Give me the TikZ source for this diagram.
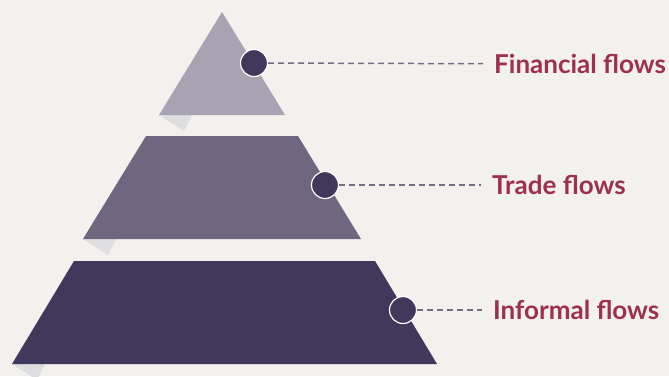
\documentclass[tikz,border=0pt]{standalone}
\usepackage{fontspec}
\setmainfont{Lato}
\usepackage{tikz}

\definecolor{bgcol}{HTML}{F2F1EE}
\definecolor{shadecol}{HTML}{DEDEE0}
\definecolor{tierA}{HTML}{A9A2B2}
\definecolor{tierB}{HTML}{70667F}
\definecolor{tierC}{HTML}{41395C}
\definecolor{dashcol}{HTML}{756C84}
\definecolor{labelcol}{HTML}{9E2F4E}

\tikzset{
  dot/.style={circle, fill=tierC, draw=white, line width=1.2pt, minimum size=27pt, inner sep=0pt},
  flowlabel/.style={anchor=west, text=labelcol, font=\fontsize{26}{30}\selectfont\bfseries, inner xsep=11pt, inner ysep=0pt},
  leader/.style={dashcol, line width=1.5pt, dash pattern=on 6pt off 4pt}
}

\begin{document}
\begin{tikzpicture}[x=1pt, y=-1pt]
		
		\fill[bgcol] (0,0) rectangle (669,376);
		\useasboundingbox (0,0) rectangle (669,376);
		\clip (0,0) rectangle (669,376);
		
		\fill[shadecol] (159,115) -- (192,115) -- (184,131) -- cycle;
		\fill[shadecol] (83,239) -- (116,239) -- (108,255) -- cycle;
		\fill[shadecol] (12,364) -- (45,364) -- (37,380) -- cycle;
		
		\fill[tierA] (222,12) -- (285,115) -- (159,115) -- cycle;
		\fill[tierB] (146,136) -- (298,136) -- (361,239) -- (83,239) -- cycle;
		\fill[tierC] (74,261) -- (375,261) -- (437,364) -- (12,364) -- cycle;
		
		\node[dot] (dot1) at (254,63) {};
		\node[dot] (dot2) at (325,185) {};
		\node[dot] (dot3) at (403,310) {};
		
		\node[flowlabel] (fin) at (483,64) {Financial flows};
		\node[flowlabel] (trade) at (481,185) {Trade flows};
		\node[flowlabel] (inf) at (482,310) {Informal flows};
		
		\draw[leader] (dot1) -- (fin);
		\draw[leader] (dot2) -- (trade);
		\draw[leader] (dot3) -- (inf);
		
		\end{tikzpicture}
\end{document}
